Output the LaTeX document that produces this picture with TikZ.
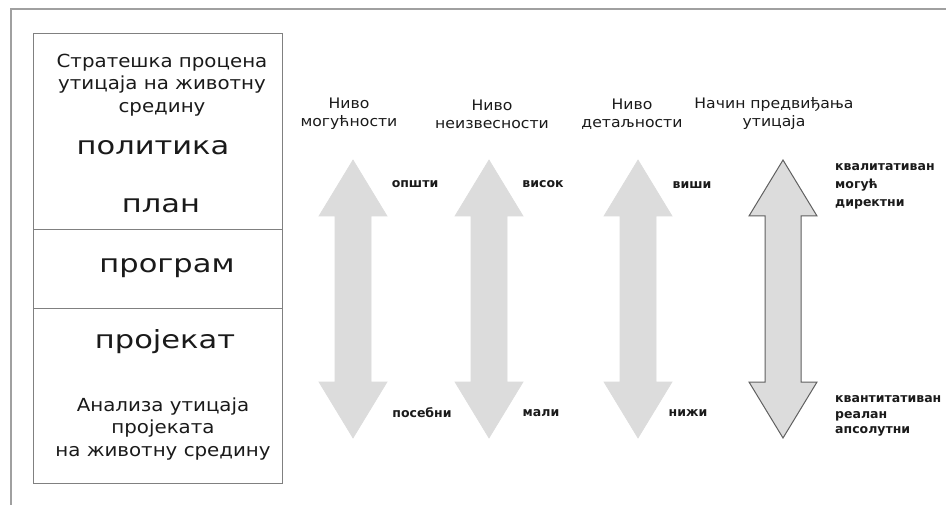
\documentclass[tikz,border=0pt]{standalone}
\usepackage{fontspec}
\setmainfont{DejaVu Sans}
\newfontfamily\bigf[FakeStretch=1.22]{DejaVu Sans}
\newfontfamily\midf[FakeStretch=1.1]{DejaVu Sans}
\newfontfamily\headf[FakeStretch=1.08]{DejaVu Sans}
\newfontfamily\lblf{DejaVu Sans}
\definecolor{framegray}{HTML}{A0A0A0}
\definecolor{boxgray}{HTML}{808080}
\definecolor{arrowfill}{HTML}{DCDCDC}
\definecolor{arrowline}{HTML}{606060}
\definecolor{txt}{HTML}{1A1A1A}
\tikzset{
  bigtxt/.style={font=\bigf\fontsize{25}{28}\selectfont, text=txt, inner sep=0pt, align=center},
  midtxt/.style={font=\midf\fontsize{18}{22.5}\selectfont, text=txt, inner sep=0pt, align=center},
  headtxt/.style={font=\headf\fontsize{14.5}{18}\selectfont, text=txt, inner sep=0pt, align=center},
  smalltxt/.style={font=\lblf\fontsize{12.5}{18}\selectfont\bfseries, text=txt, inner sep=0pt, align=left},
  smalltxtb/.style={font=\lblf\fontsize{12.5}{15.5}\selectfont\bfseries, text=txt, inner sep=0pt, align=left},
  dblarrow/.style={fill=arrowfill, draw=arrowfill, line width=0.6pt, line join=miter},
  dblarrowout/.style={fill=arrowfill, draw=arrowline, line width=1pt, line join=miter},
}
\newcommand{\dblarr}[2]{%
  \path[#2] (#1,160) -- (#1+34,216) -- (#1+18,216) -- (#1+18,382) -- (#1+34,382)
    -- (#1,438) -- (#1-34,382) -- (#1-18,382) -- (#1-18,216) -- (#1-34,216) -- cycle;}
\begin{document}
\begin{tikzpicture}[x=1pt,y=-1pt]
\useasboundingbox (0,0) rectangle (946,505);
\fill[white] (0,0) rectangle (946,505);
% outer frame (top and left edges visible)
\draw[framegray, line width=1.6pt] (11,505) -- (11,9) -- (946,9);
% left box
\draw[boxgray, line width=1pt] (33,34) rectangle (282,483);
\draw[boxgray, line width=1pt] (33,230) -- (282,230);
\draw[boxgray, line width=1pt] (33,309) -- (282,309);
\node[midtxt] (spu) at (162,85) {Стратешка процена\\утицаја на животну\\средину};
\node[bigtxt] (pol) at (153,148) {политика};
\node[bigtxt] (plan) at (161,206) {план};
\node[bigtxt] (prog) at (167,268) {програм};
\node[bigtxt] (proj) at (165,342) {пројекат};
\node[midtxt] (aup) at (163,429) {Анализа утицаја\\пројеката\\на животну средину};
% headers
\node[headtxt] (h1) at (349,114) {Ниво\\могућности};
\node[headtxt] (h2) at (492,114) {Ниво\\неизвесности};
\node[headtxt] (h3) at (632,114) {Ниво\\детаљности};
\node[headtxt] (h4) at (774,114) {Начин предвиђања\\утицаја};
% arrows
\dblarr{353}{dblarrow}
\dblarr{489}{dblarrow}
\dblarr{638}{dblarrow}
\dblarr{783}{dblarrowout}
% labels
\node[smalltxt] (l1a) at (415,184) {општи};
\node[smalltxt] (l2a) at (543,184) {висок};
\node[smalltxt] (l3a) at (692,185) {виши};
\node[smalltxt, anchor=west] (l4a) at (835,186) {квалитативан\\могућ\\директни};
\node[smalltxt] (l1b) at (422,413) {посебни};
\node[smalltxt] (l2b) at (541,413) {мали};
\node[smalltxt] (l3b) at (688,413) {нижи};
\node[smalltxtb, anchor=west] (l4b) at (835,416) {квантитативан\\реалан\\апсолутни};
\end{tikzpicture}
\end{document}
